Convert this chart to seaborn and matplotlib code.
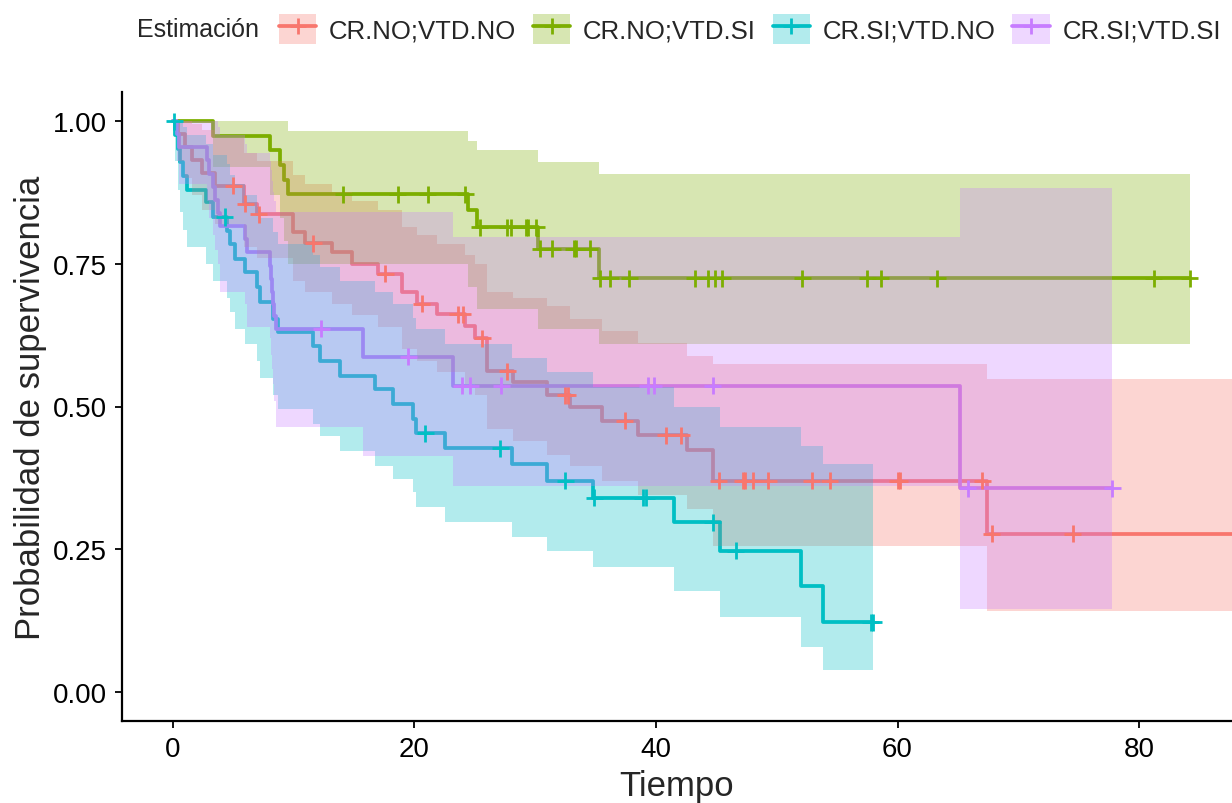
import numpy as np
import pandas as pd
import matplotlib
matplotlib.use("Agg")
import matplotlib.pyplot as plt
from matplotlib.patches import Patch
from matplotlib.lines import Line2D
import seaborn as sns

# ------------------------------------------------------------
# Kaplan-Meier estimates
# ------------------------------------------------------------
groups = ["CR.NO;VTD.NO", "CR.NO;VTD.SI", "CR.SI;VTD.NO", "CR.SI;VTD.SI"]
colors = ["#F8766D", "#7CAE00", "#00BFC4", "#C77CFF"]

# CR.NO;VTD.NO
red_t = [0, 0.4, 1.0, 1.6, 2.4, 3.5, 5.9, 7.0, 9.9, 10.9, 13.2, 14.8, 17.0, 19.0,
         20.2, 21.9, 24.2, 25.0, 26.0, 28.2, 31.0, 32.9, 35.5, 38.5, 42.6, 44.7, 67.4]
red_s = [1, .977, .955, .932, .909, .887, .855, .837, .805, .786, .77, .75, .733, .70,
         .68, .662, .641, .62, .562, .543, .52, .499, .475, .45, .424, .37, .277]
red_hi = [1, 1, 1, .995, .985, .97, .945, .93, .905, .89, .875, .86, .845, .815,
          .80, .785, .765, .75, .70, .69, .676, .653, .632, .611, .588, .574, .548]
red_lo = [1, .93, .90, .87, .845, .82, .78, .76, .72, .70, .68, .66, .64, .60,
          .58, .56, .54, .52, .46, .44, .415, .395, .37, .345, .32, .256, .142]
red_cens = [5.0, 6.0, 7.1, 11.6, 17.6, 20.6, 23.6, 24.0, 25.6, 27.7, 32.5, 32.7, 37.4,
            40.8, 42.1, 45.2, 47.2, 47.4, 48.0, 49.3, 52.9, 54.4, 60.0, 60.2, 67.0,
            67.8, 74.5]
red_end = 92.0

# CR.NO;VTD.SI
green_t = [0, 3.3, 8.0, 8.9, 9.2, 9.5, 24.4, 25.2, 30.25, 35.3]
green_s = [1, .974, .949, .923, .897, .872, .845, .814, .776, .725]
green_hi = [1, 1, 1, 1, 1, .982, .966, .949, .928, .907]
green_lo = [1, .92, .87, .83, .79, .75, .71, .67, .635, .61]
green_cens = [14.1, 18.6, 21.1, 24.2, 25.4, 27.7, 28.0, 29.2, 29.4, 30.1, 30.4, 31.4,
              33.2, 33.4, 34.5, 35.4, 36.2, 37.8, 43.2, 44.3, 44.9, 45.5, 52.1, 57.5,
              58.6, 63.3, 81.2, 84.2]
green_end = 84.2

# CR.SI;VTD.NO
cyan_t = [0, 0.2, 0.4, 0.6, 0.8, 1.2, 2.7, 3.3, 4.5, 4.7, 5.1, 6.0, 7.0, 7.2, 8.3,
          8.7, 11.6, 12.2, 13.8, 16.7, 18.2, 19.9, 20.1, 22.5, 28.1, 31.0, 34.8, 41.5,
          45.3, 52.0, 53.8]
cyan_s = [1, .976, .952, .928, .904, .88, .858, .832, .808, .784, .758, .735, .709,
          .683, .653, .63, .606, .58, .553, .53, .504, .478, .453, .427, .40, .37, .34,
          .297, .247, .185, .122]
cyan_hi = [1, 1, 1, 1, .99, .975, .96, .94, .925, .905, .89, .87, .85, .83, .805,
           .785, .765, .745, .72, .70, .68, .655, .635, .61, .585, .56, .535, .50,
           .464, .43, .40]
cyan_lo = [1, .93, .88, .84, .81, .78, .75, .72, .69, .665, .635, .61, .58, .55, .52,
           .495, .47, .448, .422, .396, .373, .35, .324, .298, .271, .247, .219, .177,
           .131, .079, .039]
cyan_cens = [0.1, 4.3, 20.9, 27.1, 32.5, 34.9, 38.9, 39.2, 44.7, 46.6, 57.8, 58.0]
cyan_end = 58.0

# CR.SI;VTD.SI
purple_t = [0, 0.3, 0.5, 2.8, 3.0, 3.3, 3.5, 3.7, 3.9, 6.0, 6.1, 8.0, 8.1, 8.2, 8.3,
            8.4, 8.5, 15.7, 23.2, 65.2]
purple_s = [1, .977, .954, .931, .908, .885, .862, .839, .816, .793, .77, .747, .724,
            .70, .68, .658, .636, .587, .536, .357]
purple_hi = [1, 1, 1, 1, 1, 1, 1, .99, .975, .96, .945, .93, .915, .895, .875, .86,
             .84, .84, .797, .883]
purple_lo = [1, .93, .89, .86, .83, .80, .775, .75, .70, .68, .64, .62, .59, .565, .54,
             .51, .464, .413, .36, .145]
purple_cens = [12.3, 19.5, 23.9, 24.6, 27.2, 39.3, 39.8, 44.7, 65.8, 77.8]
purple_end = 77.8

curves = {
    "CR.NO;VTD.NO": (red_t, red_s, red_hi, red_lo, red_cens, red_end),
    "CR.NO;VTD.SI": (green_t, green_s, green_hi, green_lo, green_cens, green_end),
    "CR.SI;VTD.NO": (cyan_t, cyan_s, cyan_hi, cyan_lo, cyan_cens, cyan_end),
    "CR.SI;VTD.SI": (purple_t, purple_s, purple_hi, purple_lo, purple_cens, purple_end),
}

# ------------------------------------------------------------
# build long tables for seaborn
# ------------------------------------------------------------
step_rows = []
cens_rows = []
for g, (t, s, hi, lo, cens, end) in curves.items():
    tt = list(t) + [end]
    ss = list(s) + [s[-1]]
    for a, b in zip(tt, ss):
        step_rows.append({"grupo": g, "tiempo": a, "surv": b})
    # censored marks sit on the curve value at their time
    idx = np.searchsorted(np.array(t), np.array(cens), side="right") - 1
    for c, i in zip(cens, idx):
        cens_rows.append({"grupo": g, "tiempo": c, "surv": s[i]})
steps = pd.DataFrame(step_rows)
censored = pd.DataFrame(cens_rows)
palette = dict(zip(groups, colors))

sns.set_style("ticks")
plt.rcParams["font.family"] = ["Liberation Sans", "DejaVu Sans"]

fig = plt.figure(figsize=(12.32, 8.04), dpi=100)
ax = fig.add_axes([122 / 1232, 82 / 804, 1 - 122 / 1232, (722 - 93) / 804])

sns.lineplot(data=steps, x="tiempo", y="surv", hue="grupo", palette=palette,
             hue_order=groups, estimator=None, sort=False, drawstyle="steps-post",
             linewidth=2.7, legend=False, ax=ax, zorder=2)

for g, col in zip(groups, colors):
    t, s, hi, lo, cens, end = curves[g]
    tt = list(t) + [end]
    ax.fill_between(tt, list(lo) + [lo[-1]], list(hi) + [hi[-1]], step="post",
                    color=col, alpha=0.3, linewidth=0, zorder=2.5)

sns.scatterplot(data=censored, x="tiempo", y="surv", hue="grupo", palette=palette,
                hue_order=groups, marker="+", s=150, linewidth=2.0, legend=False,
                ax=ax, zorder=4)

ax.set_xlim(-4.22, 87.7)
ax.set_ylim(-0.051, 1.051)
ax.set_xticks([0, 20, 40, 60, 80])
ax.set_yticks([0, 0.25, 0.5, 0.75, 1.0])
ax.set_yticklabels(["0.00", "0.25", "0.50", "0.75", "1.00"])
ax.tick_params(labelsize=20, length=5, width=1.3, pad=6, colors="black")
for side in ["left", "bottom"]:
    ax.spines[side].set_linewidth(1.6)
    ax.spines[side].set_color("black")
sns.despine(ax=ax)
ax.set_xlabel("Tiempo", fontsize=25, labelpad=5)
ax.set_ylabel("Probabilidad de supervivencia", fontsize=25, labelpad=4)

# ------------------------------------------------------------
# legend on top
# ------------------------------------------------------------
handles = [(Patch(facecolor=c, alpha=0.3, linewidth=0),
            Line2D([], [], color=c, lw=2.7, marker="+", markersize=12, mew=2.0))
           for c in colors]
fig.text(137 / 1232, 1 - 30 / 804, "Estimación", fontsize=18, ha="left", va="center")
fig.legend(handles, groups, loc="center left", bbox_to_anchor=(279 / 1232, 1 - 30 / 804),
           ncol=4, frameon=False, fontsize=18.5, handlelength=1.45, handleheight=1.4,
           handletextpad=0.5, columnspacing=0.65, borderpad=0, borderaxespad=0,
           numpoints=1)

fig.savefig("out.png", dpi=100)
